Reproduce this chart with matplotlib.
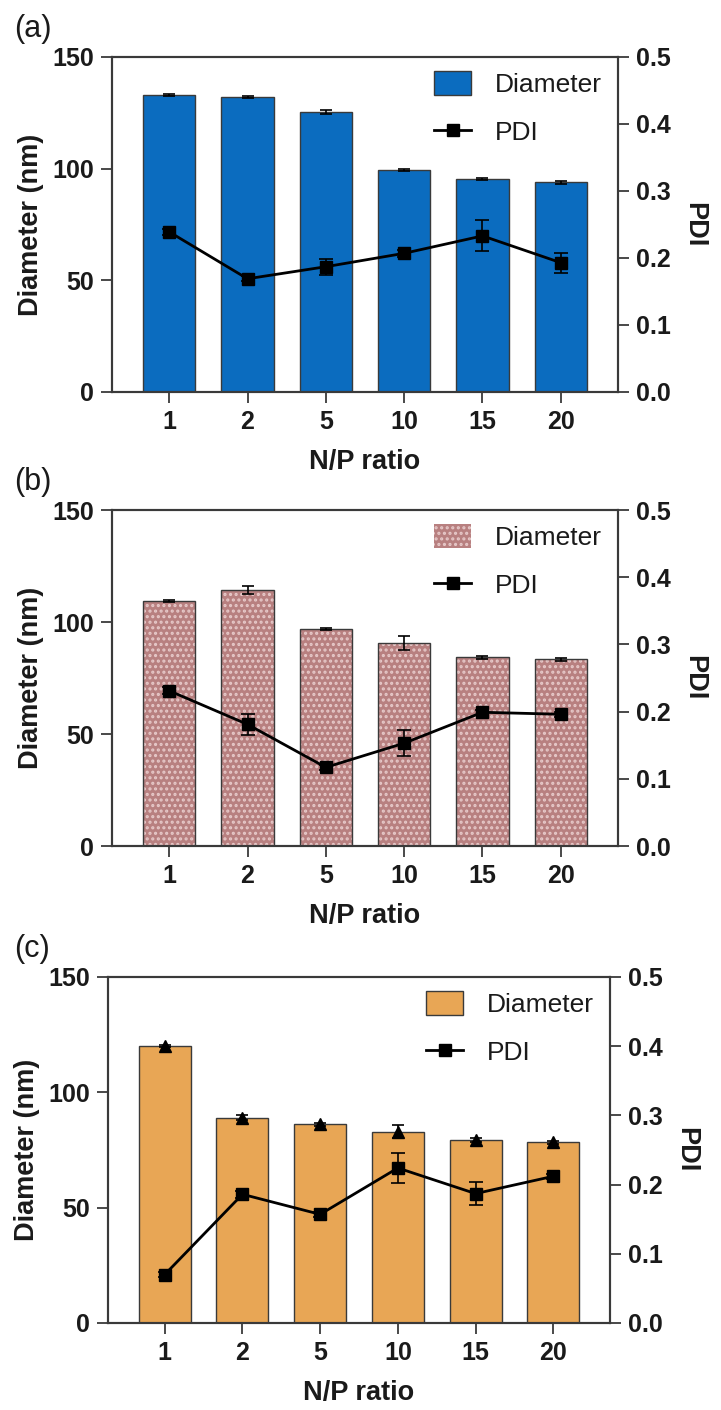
import matplotlib
matplotlib.use("Agg")
import matplotlib.pyplot as plt
import numpy as np

plt.rcParams['font.family'] = ['Liberation Sans', 'DejaVu Sans']
plt.rcParams['hatch.linewidth'] = 1.5

# N/P ratios on the x axis
ratios = ["1", "2", "5", "10", "15", "20"]

# (a)
diam_a = [132.9, 132.1, 125.4, 99.4, 95.4, 93.9]
diam_a_err = [0.5, 0.5, 1.0, 0.5, 0.5, 0.6]
pdi_a = [0.239, 0.169, 0.187, 0.207, 0.233, 0.193]
pdi_a_err = [0.005, 0.004, 0.012, 0.005, 0.023, 0.015]

# (b)
diam_b = [109.3, 114.3, 96.8, 90.7, 84.3, 83.3]
diam_b_err = [0.4, 1.9, 0.4, 3.0, 0.6, 0.5]
pdi_b = [0.231, 0.181, 0.117, 0.153, 0.199, 0.196]
pdi_b_err = [0.005, 0.016, 0.004, 0.019, 0.004, 0.004]

# (c)
diam_c = [120.1, 89.0, 86.1, 82.9, 79.4, 78.3]
diam_c_err = [0.6, 1.0, 0.8, 2.9, 0.8, 0.8]
pdi_c = [0.070, 0.186, 0.157, 0.224, 0.187, 0.212]
pdi_c_err = [0.004, 0.005, 0.004, 0.021, 0.017, 0.004]

panels = [
    ("(a)", diam_a, diam_a_err, pdi_a, pdi_a_err, "#0b6cbf", None, False),
    ("(b)", diam_b, diam_b_err, pdi_b, pdi_b_err, "#b88080", "...", False),
    ("(c)", diam_c, diam_c_err, pdi_c, pdi_c_err, "#e8a655", None, True),
]
# axes boxes in pixels: left, right, top, bottom
boxes = [(112, 618, 57, 392), (112, 618, 510, 846), (108, 610, 977, 1323)]

W, H = 721, 1410
fig = plt.figure(figsize=(W / 100, H / 100), dpi=100)
x = np.arange(len(ratios))
txt = "#1a1a1a"
spc = "#3a3a3a"

for (lab, d, de, p, pe, col, hatch, tri), (l, r, t, b) in zip(panels, boxes):
    ax = fig.add_axes([l / W, 1 - b / H, (r - l) / W, (b - t) / H])
    if hatch:
        bars = ax.bar(x, d, width=0.67, color=col, edgecolor="#e6c8c8", linewidth=0,
                      hatch=hatch, label="Diameter", zorder=2)
        ax.bar(x, d, width=0.67, fill=False, edgecolor="#3a3a3a", linewidth=1.0, zorder=3)
    else:
        bars = ax.bar(x, d, width=0.67, color=col, edgecolor="#3a3a3a", linewidth=1.0,
                      label="Diameter", zorder=2)
    ax.errorbar(x, d, yerr=de, fmt="^" if tri else "none", color="black", ms=9,
                elinewidth=1.2, capsize=4, capthick=1.2, zorder=4)
    ax.set_xlim(-0.73, len(ratios) - 1 + 0.73)
    ax.set_ylim(0, 150)
    ax.set_yticks([0, 50, 100, 150])
    ax.set_xticks(x)
    ax.set_xticklabels(ratios)
    ax.set_ylabel("Diameter (nm)", fontsize=19.5, fontweight="bold", color=txt, labelpad=6)
    ax.set_xlabel("N/P ratio", fontsize=19.5, fontweight="bold", color=txt, labelpad=11)

    ax2 = ax.twinx()
    line = ax2.errorbar(x, p, yerr=pe, fmt="-s", color="black", ms=9, lw=2.0,
                        elinewidth=1.2, capsize=5, capthick=1.2)
    ax2.set_ylim(0, 0.5)
    ax2.set_yticks([0, 0.1, 0.2, 0.3, 0.4, 0.5])
    ax2.set_yticklabels(["0.0", "0.1", "0.2", "0.3", "0.4", "0.5"])
    ax2.set_ylabel("PDI", fontsize=19.5, fontweight="bold", color=txt, rotation=270, labelpad=26)

    for a in (ax, ax2):
        a.tick_params(direction="out", length=8, width=1.3, color=spc, labelsize=18,
                      labelcolor=txt, pad=5)
        for s in a.spines.values():
            s.set_color(spc)
            s.set_linewidth(1.5)
        for tl in a.get_xticklabels() + a.get_yticklabels():
            tl.set_fontweight("bold")

    ax2.legend([bars, line[0]], ["Diameter", "PDI"], loc="upper right",
               bbox_to_anchor=(1.0, 1.005), frameon=False, fontsize=19,
               handlelength=1.4, handleheight=1.0, handletextpad=0.9,
               labelspacing=0.85, borderaxespad=0.2, labelcolor=txt)

    fig.text(14 / W, 1 - (t - 28) / H, lab, fontsize=22, color=txt, va="center", ha="left")

fig.savefig("out.png", dpi=100)
